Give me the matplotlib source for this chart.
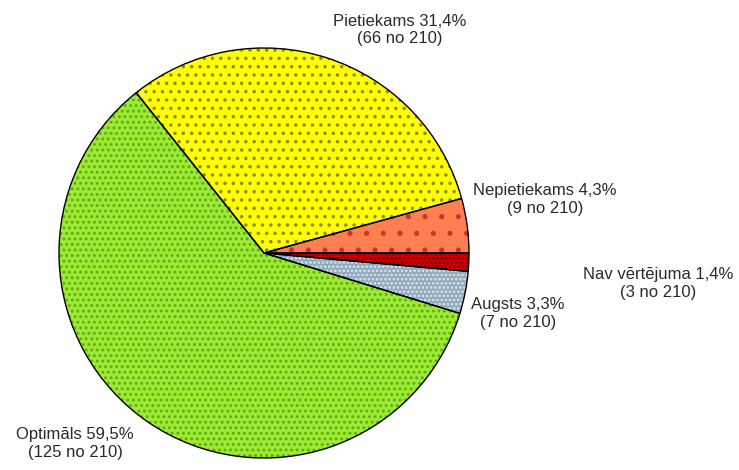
import matplotlib.pyplot as plt

plt.rcParams["font.family"] = ["Liberation Sans", "DejaVu Sans"]
plt.rcParams["hatch.linewidth"] = 1.3

# data
categories = ["Nepietiekams", "Pietiekams", "Optimāls", "Augsts", "Nav vērtējuma"]
counts = [9, 66, 125, 7, 3]
total = 210
face_colors = ["#FF7F50", "#FFFF00", "#9CEB30", "#8FA9BD", "#CC0000"]
hatch_colors = ["#C0392B", "#8C8C10", "#5FA81E", "#DCE6EE", "#7A0000"]
hatches = [".", "..", "...", "....", "...."]

# label positions in pixels (x, y from top)
label_pos = [(545, 200), (400, 30), (75, 444), (518, 314), (658, 283)]

W, H = 739, 470
fig = plt.figure(figsize=(W / 100, H / 100), dpi=100)
ax = fig.add_axes([0, 0, 1, 1])

center = (264, H - 253)
radius = 205

wedges, _ = ax.pie(counts, colors=face_colors, startangle=0, counterclock=True,
                   center=center, radius=radius, frame=True,
                   wedgeprops=dict(linewidth=0))
for w, hc, h in zip(wedges, hatch_colors, hatches):
    w.set_hatch(h)
    w.set_edgecolor(hc)

# outlines on top
ax.pie(counts, colors=["none"] * len(counts), startangle=0, counterclock=True,
       center=center, radius=radius, frame=True,
       wedgeprops=dict(linewidth=1.0, edgecolor="black", fill=False))

ax.set_xlim(0, W)
ax.set_ylim(0, H)
ax.set_aspect("equal")
ax.axis("off")

for name, n, (x, y) in zip(categories, counts, label_pos):
    pct = f"{n / total * 100:.1f}".replace(".", ",")
    ax.text(x, H - y, f"{name} {pct}%\n({n} no {total})", ha="center", va="center",
            fontsize=12, color="#2a2a2a", linespacing=1.25)

fig.savefig("out.png", dpi=100)
